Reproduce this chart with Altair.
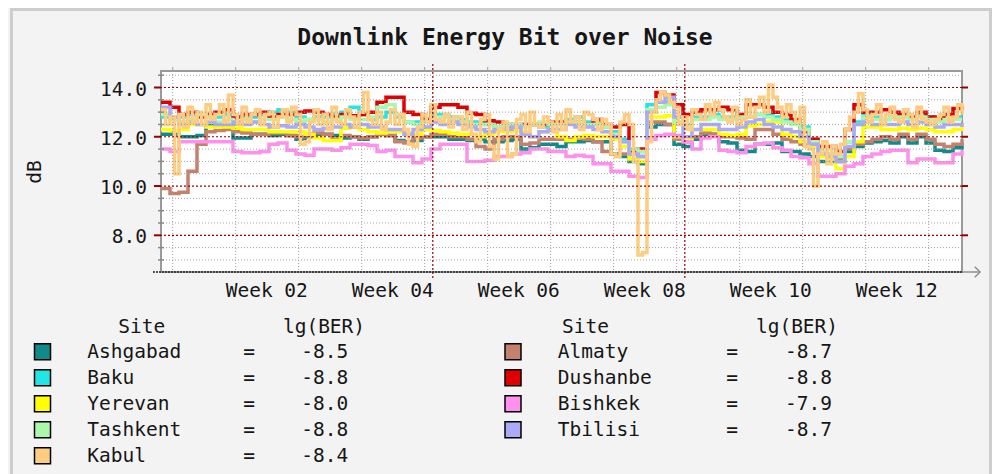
import altair as alt
import pandas as pd

# ---------------- data ----------------
DAYS = list(range(90))
KABUL_T = [i * 0.5 for i in range(179)]

ashgabad = [12.1, 12.1, 12.0, 12.0, 12.05, 12.45, 12.5, 12.45, 11.95, 11.95,
            12.1, 12.1, 12.05, 12.1, 12.05, 11.9, 12.0, 12.1, 12.1, 12.05,
            11.95, 12.0, 11.9, 12.0, 12.1, 12.05, 11.85, 11.8, 11.85, 12.0,
            12.0, 12.0, 11.9, 11.9, 11.85, 11.9, 11.8, 11.8, 11.85, 11.9,
            11.5, 11.55, 11.7, 11.7, 11.6, 11.8, 11.8, 11.85, 11.8, 11.8,
            11.3, 11.2, 11.0, 10.9, 12.4, 12.5, 12.5, 11.7, 11.6, 11.9,
            12.1, 12.1, 11.8, 11.75, 11.45, 11.4, 11.7, 11.7, 11.75, 11.4,
            11.4, 11.3, 11.2, 11.0, 11.0, 11.0, 11.4, 11.6, 11.75, 11.8,
            11.85, 11.75, 12.0, 11.75, 12.0, 11.75, 11.45, 11.4, 11.55, 11.75]

almaty = [9.9, 9.7, 9.75, 10.6, 11.7, 12.2, 12.25, 12.3, 12.2, 12.15,
          12.1, 12.1, 12.15, 12.15, 12.05, 12.0, 12.1, 12.15, 12.1, 11.9,
          12.05, 12.0, 11.95, 12.0, 12.1, 12.05, 11.8, 11.75, 11.95, 12.0,
          12.1, 12.1, 12.0, 12.0, 11.9, 11.6, 11.5, 11.9, 12.0, 12.0,
          11.7, 11.75, 11.9, 11.9, 11.9, 11.9, 11.95, 11.9, 11.8, 11.4,
          11.3, 11.3, 11.3, 11.2, 12.6, 12.6, 12.5, 11.9, 11.8, 12.0,
          12.15, 12.1, 12.0, 12.0, 11.95, 11.9, 12.3, 12.3, 12.1, 11.9,
          11.8, 11.7, 11.6, 11.3, 11.2, 11.1, 11.5, 11.7, 11.8, 11.9,
          12.0, 11.9, 12.1, 11.9, 12.1, 11.9, 11.7, 11.6, 11.7, 11.9]

baku = [12.8, 12.7, 12.8, 12.9, 12.8, 12.8, 12.8, 12.9, 12.8, 12.8,
        12.8, 12.9, 13.0, 13.1, 13.0, 12.8, 12.7, 12.8, 12.8, 12.9,
        13.0, 13.2, 12.9, 12.7, 12.8, 13.0, 12.8, 12.6, 12.6, 12.7,
        12.9, 12.9, 12.8, 12.7, 12.6, 12.6, 12.5, 12.4, 12.4, 12.5,
        12.5, 12.5, 12.4, 12.5, 12.5, 12.7, 12.8, 12.6, 12.6, 12.4,
        12.2, 11.9, 11.5, 11.4, 13.3, 13.4, 13.4, 12.8, 12.5, 12.8,
        12.8, 12.9, 12.8, 12.8, 12.9, 12.8, 12.9, 12.9, 12.8, 12.7,
        12.6, 12.4, 11.9, 11.4, 11.3, 11.2, 11.8, 12.6, 12.9, 12.8,
        12.7, 12.8, 12.8, 12.8, 12.9, 12.8, 12.7, 12.7, 12.8, 12.8]

dushanbe = [13.4, 13.2, 12.9, 13.0, 12.8, 12.9, 13.0, 13.1, 12.8, 12.9,
            12.9, 13.0, 12.8, 12.9, 12.9, 13.0, 13.05, 13.0, 12.9, 12.8,
            12.9, 12.85, 12.9, 13.0, 13.4, 13.6, 13.6, 13.0, 12.9, 12.7,
            13.2, 13.3, 13.3, 13.2, 12.95, 12.9, 12.65, 12.6, 12.5, 12.4,
            12.5, 12.5, 12.5, 12.6, 12.6, 12.6, 12.6, 12.5, 12.7, 12.5,
            12.4, 12.5, 11.4, 11.5, 13.0, 13.8, 13.7, 13.3, 12.9, 13.0,
            13.1, 13.1, 13.2, 13.1, 12.9, 13.3, 13.3, 13.2, 13.0, 12.9,
            12.7, 12.2, 11.9, 11.6, 11.6, 11.4, 12.3, 13.3, 13.0, 13.0,
            13.1, 13.0, 12.9, 12.8, 13.0, 12.8, 12.7, 12.9, 13.15, 13.1]

yerevan = [12.3, 12.25, 12.3, 12.5, 12.5, 12.4, 12.4, 12.4, 12.35, 12.3,
           12.3, 12.3, 12.2, 12.2, 12.2, 12.2, 12.1, 11.95, 11.85, 11.85,
           12.35, 12.4, 12.3, 12.2, 12.15, 12.2, 12.2, 12.15, 12.1, 12.3,
           12.25, 12.2, 12.15, 12.1, 12.1, 12.0, 12.1, 12.2, 12.2, 12.25,
           12.2, 12.0, 12.2, 12.3, 12.0, 11.85, 12.0, 12.05, 12.0, 12.0,
           11.9, 11.6, 11.1, 11.0, 12.8, 12.8, 12.85, 12.0, 11.85, 12.3,
           12.3, 12.3, 12.1, 12.05, 12.1, 12.45, 12.5, 12.6, 12.6, 12.1,
           12.0, 11.8, 11.6, 11.2, 11.1, 10.7, 11.2, 11.8, 12.4, 12.4,
           12.3, 12.3, 12.35, 12.3, 12.35, 12.3, 12.2, 12.2, 12.3, 12.4]

bishkek = [11.5, 11.4, 11.8, 11.8, 11.8, 11.8, 11.8, 11.8, 11.4, 11.35,
           11.35, 11.4, 11.7, 11.75, 11.45, 11.3, 11.25, 11.5, 11.5, 11.45,
           11.55, 11.7, 11.7, 11.65, 11.4, 11.45, 11.2, 11.2, 10.95, 11.1,
           11.5, 11.7, 11.7, 11.7, 11.0, 11.0, 11.05, 11.2, 11.2, 11.3,
           11.35, 11.5, 11.5, 11.4, 11.4, 11.2, 11.25, 11.2, 10.9, 10.9,
           10.6, 10.6, 10.4, 10.35, 11.9, 12.05, 12.1, 12.05, 11.8, 11.5,
           11.95, 12.0, 11.45, 11.4, 11.35, 11.6, 11.7, 11.75, 11.55, 11.45,
           11.2, 11.15, 10.9, 10.4, 10.4, 10.5, 10.8, 10.9, 11.2, 11.3,
           11.4, 11.45, 11.45, 10.95, 11.1, 11.1, 10.95, 10.95, 11.3, 11.45]

tashkent = [12.9, 12.7, 12.6, 12.7, 12.9, 12.8, 12.6, 12.7, 12.6, 12.7,
            12.6, 12.7, 12.7, 12.8, 12.7, 12.6, 12.7, 12.7, 12.6, 12.7,
            12.8, 12.7, 12.7, 12.8, 13.2, 13.3, 12.9, 12.6, 12.5, 12.6,
            12.7, 12.8, 12.7, 12.6, 12.5, 12.5, 12.5, 12.4, 12.5, 12.5,
            12.4, 12.5, 12.6, 12.5, 12.5, 12.6, 12.6, 12.5, 12.5, 12.4,
            12.1, 11.8, 11.5, 11.4, 13.1, 13.2, 13.3, 12.6, 12.4, 12.7,
            12.7, 12.8, 12.7, 12.7, 12.8, 12.8, 12.9, 12.8, 12.7, 12.6,
            12.5, 12.3, 11.8, 11.4, 11.3, 11.2, 11.8, 12.5, 12.8, 12.7,
            12.7, 12.8, 12.8, 12.7, 12.8, 12.7, 12.6, 12.7, 12.7, 12.7]

tbilisi = [13.2, 12.8, 12.5, 12.6, 12.5, 12.6, 12.5, 12.5, 12.6, 12.5,
           12.6, 12.5, 12.4, 12.45, 12.4, 12.5, 12.4, 12.3, 12.35, 12.4,
           12.5, 12.4, 12.5, 12.4, 12.4, 12.3, 12.3, 12.1, 12.3, 12.4,
           12.6, 12.5, 12.6, 12.5, 12.4, 12.3, 12.2, 12.3, 12.3, 12.4,
           12.1, 12.0, 12.2, 12.3, 12.3, 12.5, 12.4, 12.4, 12.3, 12.2,
           12.0, 11.8, 11.3, 11.2, 13.0, 13.4, 13.6, 12.8, 12.0, 12.3,
           12.5, 12.5, 12.3, 12.3, 12.4, 12.6, 12.7, 12.5, 12.4, 12.3,
           12.2, 12.0, 11.7, 11.3, 11.2, 11.0, 11.6, 12.5, 12.6, 12.5,
           12.5, 12.5, 12.6, 12.5, 12.6, 12.5, 12.4, 12.5, 12.5, 12.4]

kabul = [13.1, 12.5, 12.8, 10.5, 12.9, 12.4, 13.2, 12.6, 13.0, 12.5,
         13.3, 12.7, 12.9, 13.3, 12.6, 13.7, 12.9, 12.5, 13.2, 12.6,
         12.9, 13.1, 12.5, 12.9, 13.0, 12.4, 12.8, 13.1, 12.6, 13.2,
         12.9, 11.7, 11.8, 12.6, 13.1, 12.5, 12.9, 12.3, 13.2, 12.6,
         12.5, 13.1, 12.8, 12.4, 13.0, 13.8, 12.7, 12.5, 13.0, 12.3,
         12.6, 13.1, 12.5, 12.9, 12.3, 11.7, 11.6, 12.4, 12.9, 12.6,
         13.3, 12.7, 12.6, 12.9, 12.4, 12.8, 12.8, 12.3, 13.0, 12.1,
         11.8, 12.7, 12.9, 11.6, 11.1, 12.3, 12.6, 11.2, 11.3, 12.7,
         12.9, 12.2, 13.0, 12.5, 12.4, 12.8, 12.6, 12.2, 12.9, 12.3,
         13.1, 12.6, 12.8, 12.3, 13.0, 12.9, 12.7, 12.3, 12.7, 12.5,
         11.3, 11.2, 12.6, 12.9, 12.5, 11.0, 7.2, 7.3, 11.8, 13.0,
         13.5, 13.8, 13.7, 13.4, 13.2, 12.5, 12.8, 12.3, 13.1, 12.9,
         12.7, 13.3, 12.9, 13.4, 13.1, 12.8, 12.6, 13.2, 12.5, 12.7,
         13.5, 12.8, 13.2, 13.6, 13.0, 14.1, 13.6, 13.2, 12.8, 13.3,
         13.0, 12.6, 13.2, 11.6, 11.5, 10.0, 11.3, 11.8, 10.9, 11.6,
         11.3, 11.7, 12.3, 12.8, 13.0, 13.75, 13.1, 12.6, 12.9, 13.3,
         12.5, 12.9, 13.2, 12.7, 12.6, 13.1, 12.9, 12.4, 13.2, 12.7,
         12.6, 12.5, 12.7, 12.9, 13.2, 12.6, 12.8, 13.3, 12.9]

# legend content
LEFT_SITES = ["Ashgabad", "Baku", "Yerevan", "Tashkent", "Kabul"]
RIGHT_SITES = ["Almaty", "Dushanbe", "Bishkek", "Tbilisi"]
LG_BER = {"Ashgabad": "-8.5", "Baku": "-8.8", "Yerevan": "-8.0", "Tashkent": "-8.8",
          "Kabul": "-8.4", "Almaty": "-8.7", "Dushanbe": "-8.8", "Bishkek": "-7.9",
          "Tbilisi": "-8.7"}
COLORS = {"Ashgabad": "#138a8a", "Baku": "#22e6e6", "Yerevan": "#ffff00",
          "Tashkent": "#aaf8aa", "Kabul": "#ffcc80", "Almaty": "#c4826e",
          "Dushanbe": "#e00000", "Bishkek": "#ff90ee", "Tbilisi": "#aaaaf8"}

# axes / grid
TITLE = "Downlink Energy Bit over Noise"
Y_TITLE = "dB"
WEEK_POS = [11.75, 25.75, 39.75, 53.75, 67.75, 81.75]
WEEK_LABELS = ["Week 02", "Week 04", "Week 06", "Week 08", "Week 10", "Week 12"]
H_MAJOR = [8.0, 10.0, 12.0, 14.0]
H_MAJOR_LABELS = ["8.0", "10.0", "12.0", "14.0"]
H_MINOR = [7.0, 7.5, 8.5, 9.0, 9.5, 10.5, 11.0, 11.5, 12.5, 13.0, 13.5, 14.5]
V_GRID = [1.3, 8.3, 15.3, 22.3, 29.3, 36.3, 43.3, 50.3, 57.3, 64.3, 71.3, 78.3, 85.3]
V_MAJOR = [30.2, 58.2]

# ---------------- layout ----------------
W, H = 801, 201
FONT = "DejaVu Sans Mono"
FS = 19.5
TXT = "#161616"
GRAY = "#a0a0a0"
DRED = "#990000"

xs = alt.Scale(domain=[0, 89], nice=False, zero=False)
ys = alt.Scale(domain=[6.51, 14.67], nice=False, zero=False)


def X(f):
    return alt.X(f, scale=xs, axis=None)


def Y(f):
    return alt.Y(f, scale=ys, axis=None)


def one():
    return alt.Chart(pd.DataFrame({"a": [0]}))


series = [("Ashgabad", DAYS, ashgabad), ("Almaty", DAYS, almaty), ("Baku", DAYS, baku),
          ("Dushanbe", DAYS, dushanbe), ("Yerevan", DAYS, yerevan), ("Bishkek", DAYS, bishkek),
          ("Tashkent", DAYS, tashkent), ("Tbilisi", DAYS, tbilisi), ("Kabul", KABUL_T, kabul)]

layers = []
for name, t, v in series:
    df = pd.DataFrame({"t": t, "v": v})
    layers.append(alt.Chart(df).mark_line(
        color=COLORS[name], strokeWidth=3.5, interpolate="step-after", strokeJoin="miter"
    ).encode(x=X("t:Q"), y=Y("v:Q")))

# grid (drawn over the data, RRDtool style)
layers.append(alt.Chart(pd.DataFrame({"v": H_MINOR})).mark_rule(
    color=GRAY, strokeDash=[1, 2], strokeWidth=1).encode(y=Y("v:Q")))
layers.append(alt.Chart(pd.DataFrame({"t": V_GRID})).mark_rule(
    color=GRAY, strokeDash=[1, 2], strokeWidth=1).encode(x=X("t:Q")))
layers.append(alt.Chart(pd.DataFrame({"t": V_GRID})).mark_rule(
    color=GRAY, strokeWidth=1).encode(x=X("t:Q"), y=alt.value(-4), y2=alt.value(0)))
layers.append(alt.Chart(pd.DataFrame({"v": H_MAJOR})).mark_rule(
    color=DRED, strokeDash=[2, 2], strokeWidth=1.2).encode(y=Y("v:Q")))
layers.append(alt.Chart(pd.DataFrame({"t": V_MAJOR})).mark_rule(
    color=DRED, strokeDash=[2, 2], strokeWidth=1.2).encode(
    x=X("t:Q"), y=alt.value(-7), y2=alt.value(H + 7)))

# y ticks: majors red (left and right), minors gray
layers.append(alt.Chart(pd.DataFrame({"v": H_MAJOR})).mark_rule(
    color=DRED, strokeWidth=2).encode(y=Y("v:Q"), x=alt.value(W), x2=alt.value(W + 6)))
layers.append(alt.Chart(pd.DataFrame({"v": H_MAJOR})).mark_rule(
    color=DRED, strokeWidth=2).encode(y=Y("v:Q"), x=alt.value(-7), x2=alt.value(0)))
layers.append(alt.Chart(pd.DataFrame({"v": H_MINOR})).mark_rule(
    color="#888888", strokeWidth=1.5).encode(y=Y("v:Q"), x=alt.value(-3), x2=alt.value(3)))

# bottom axis line with arrow
layers.append(one().mark_rule(color="#222222", strokeDash=[2, 1], strokeWidth=1.5).encode(
    x=alt.value(-8), x2=alt.value(W), y=alt.value(H)))
layers.append(one().mark_rule(color="#909090", strokeWidth=1.5).encode(
    x=alt.value(W), x2=alt.value(W + 18), y=alt.value(H)))
layers.append(one().mark_point(
    shape="M-1,-1L0,0L-1,1", size=110, filled=False, color="#909090", strokeWidth=1.5,
    opacity=1).encode(x=alt.value(W + 18), y=alt.value(H)))

# axis labels, axis title and chart title as text
layers.append(alt.Chart(pd.DataFrame({"v": H_MAJOR, "lab": H_MAJOR_LABELS})).mark_text(
    font=FONT, fontSize=FS, color=TXT, align="right", baseline="middle", dy=2).encode(
    y=Y("v:Q"), x=alt.value(-14), text="lab:N"))
layers.append(alt.Chart(pd.DataFrame({"t": WEEK_POS, "lab": WEEK_LABELS})).mark_text(
    font=FONT, fontSize=FS, color=TXT, align="center", baseline="top").encode(
    x=X("t:Q"), y=alt.value(H + 10), text="lab:N"))
layers.append(one().mark_text(
    font=FONT, fontSize=FS, color=TXT, align="center", baseline="middle", angle=270).encode(
    x=alt.value(-126), y=alt.value(101), text=alt.value(Y_TITLE)))
layers.append(one().mark_text(
    font=FONT, fontSize=23, fontWeight="bold", color=TXT, align="center",
    baseline="alphabetic").encode(x=alt.value(344), y=alt.value(-26), text=alt.value(TITLE)))

# frame of the panel
FR = "#cdcdcd"
layers.append(one().mark_rule(color=FR, strokeWidth=3).encode(
    x=alt.value(-149.5), y=alt.value(-63), y2=alt.value(410)))
layers.append(one().mark_rule(color=FR, strokeWidth=3).encode(
    x=alt.value(-151), x2=alt.value(831), y=alt.value(-61.5)))
layers.append(one().mark_rule(color=FR, strokeWidth=3).encode(
    x=alt.value(829.5), y=alt.value(-63), y2=alt.value(410)))

# legend (table built from the legend lists; pixel layout relative to plot origin)
COL_SWATCH = [-118.5, 352.0]
COL_NAME = [-73.7, 396.7]
COL_EQ = [88.0, 571.0]
COL_VAL = [187.3, 671.0]
COL_HSITE = [-19.3, 424.5]
COL_HBER = [163.0, 636.0]
ROW0, ROWSTEP, HEAD_Y = 280.7, 26.0, 255.5

rows = []
for c, sites in enumerate([LEFT_SITES, RIGHT_SITES]):
    for r, s in enumerate(sites):
        rows.append({"site": s, "ber": LG_BER[s], "color": COLORS[s],
                     "sx": COL_SWATCH[c], "nx": COL_NAME[c], "ex": COL_EQ[c],
                     "vx": COL_VAL[c], "py": ROW0 + r * ROWSTEP})
leg = pd.DataFrame(rows)
heads = pd.DataFrame({"txt": ["Site", "lg(BER)", "Site", "lg(BER)"],
                      "hx": [COL_HSITE[0], COL_HBER[0], COL_HSITE[1], COL_HBER[1]],
                      "py": [HEAD_Y] * 4})


def PX(f):
    return alt.X(f, scale=None, axis=None)


def PY(f):
    return alt.Y(f, scale=None, axis=None)


tkw = dict(font=FONT, fontSize=FS, color=TXT, baseline="middle")
layers.append(alt.Chart(leg).mark_square(size=256, opacity=1, stroke="#000000",
                                         strokeWidth=1.5).encode(
    x=PX("sx:Q"), y=PY("py:Q"), fill=alt.Fill("color:N", scale=None)))
layers.append(alt.Chart(leg).mark_text(align="left", **tkw).encode(
    x=PX("nx:Q"), y=PY("py:Q"), text="site:N"))
layers.append(alt.Chart(leg).mark_text(align="center", **tkw).encode(
    x=PX("ex:Q"), y=PY("py:Q"), text=alt.value("=")))
layers.append(alt.Chart(leg).mark_text(align="right", **tkw).encode(
    x=PX("vx:Q"), y=PY("py:Q"), text="ber:N"))
layers.append(alt.Chart(heads).mark_text(align="center", **tkw).encode(
    x=PX("hx:Q"), y=PY("py:Q"), text="txt:N"))

chart = alt.layer(*layers).properties(
    width=W, height=H,
    autosize=alt.AutoSizeParams(type="none"),
    padding={"left": 153, "top": 63, "right": 30, "bottom": 202},
    background="#f3f3f3",
).configure_view(fill="white", stroke="#9a9a9a", strokeWidth=2)

chart.save("out.html", embed_options={"renderer": "svg", "actions": False})
